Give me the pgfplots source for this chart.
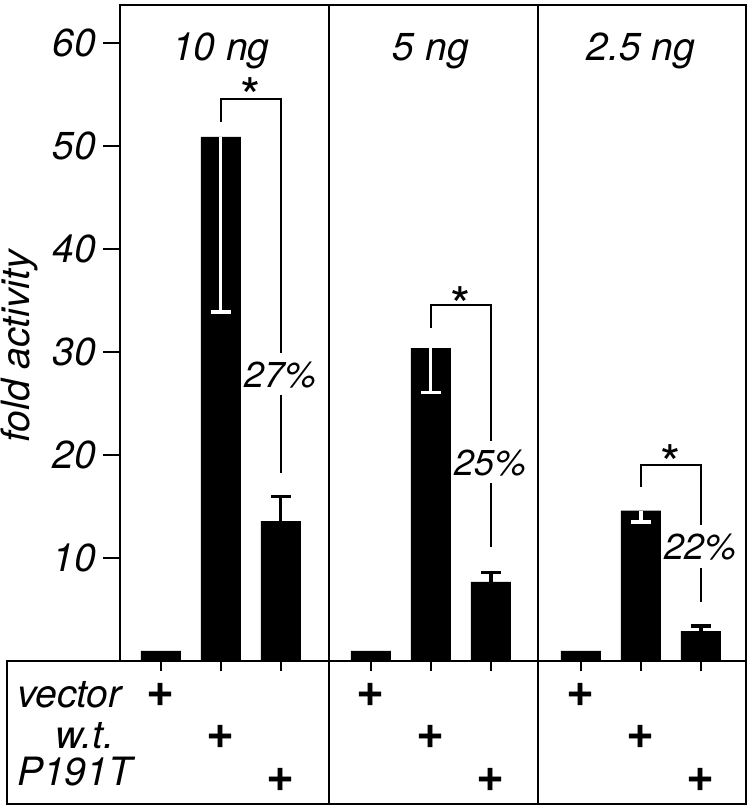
\documentclass[border=0pt]{standalone}
\usepackage{pgfplots}
\pgfplotsset{compat=1.18}
\usepackage{fontspec}
\setmainfont{TeX Gyre Heros}
\newcommand{\lbl}{\fontsize{19.5}{22}\selectfont\itshape}
\newcommand{\pct}{\fontsize{18}{22}\selectfont\itshape}
\newcommand{\pls}{\fontsize{24}{24}\selectfont\bfseries}
\newcommand{\str}{\fontsize{26}{26}\selectfont}
\begin{document}
\begin{tikzpicture}
\begin{axis}[
  scale only axis, width=313pt, height=328pt,
  xmin=-0.68, xmax=9.75, ymin=0, ymax=63.7,
  axis line style={line width=1.2pt},
  clip=false,
  /pgf/number format/assume math mode=true,
  ytick={10,20,30,40,50,60},
  yticklabel style={font=\lbl},
  ytick pos=left, ytick align=outside,
  major tick length=8.5pt,
  tick style={line width=1.2pt, black},
  xtick={0,1,2,3.5,4.5,5.5,7,8,9},
  xticklabels={},
  xtick pos=bottom, xtick align=outside,
  x tick style={/pgfplots/major tick length=5pt},
  ylabel={fold activity},
  ylabel style={font=\lbl, inner sep=0pt, at={(axis description cs:-0.16,0.48)}, anchor=center},
]
% vector bars
\addplot[ybar, bar width=20pt, bar shift=0pt, fill=black, draw=none]
  coordinates {(0,1) (3.5,1) (7,1)};
% wild type bars with white downward error bars
\addplot[ybar, bar width=20pt, bar shift=0pt, fill=black, draw=none,
  error bars/.cd, y dir=minus, y explicit,
  error bar style={draw=white, line width=1.6pt},
  error mark=-,
  error mark options={rotate=90, draw=white, mark size=5pt, line width=1.6pt}]
  coordinates {(1,50.9) +- (0,17.0) (4.5,30.4) +- (0,4.3) (8,14.6) +- (0,1.1)};
% P191T bars with upward error bars
\addplot[ybar, bar width=20pt, bar shift=0pt, fill=black, draw=none,
  error bars/.cd, y dir=plus, y explicit,
  error bar style={draw=black, line width=1.6pt},
  error mark=-,
  error mark options={rotate=90, draw=black, mark size=5pt, line width=1.6pt}]
  coordinates {(2,13.6) +- (0,2.4) (5.5,7.7) +- (0,0.9) (9,2.9) +- (0,0.5)};
% significance brackets
\addplot[black, line width=1pt, mark=none] coordinates {(1,52.4) (1,54.6) (2,54.6) (2,29.9)};
\addplot[black, line width=1pt, mark=none] coordinates {(2,25.8) (2,18.3)};
\addplot[black, line width=1pt, mark=none] coordinates {(4.5,32.3) (4.5,34.6) (5.5,34.6) (5.5,21.4)};
\addplot[black, line width=1pt, mark=none] coordinates {(5.5,17.3) (5.5,11.1)};
\addplot[black, line width=1pt, mark=none] coordinates {(8,16.9) (8,19.0) (9,19.0) (9,13.2)};
\addplot[black, line width=1pt, mark=none] coordinates {(9,9.0) (9,5.7)};
% stars and percentages
\node[font=\str, anchor=base, inner sep=0pt] at (axis cs:1.5,53.0) {*};
\node[font=\str, anchor=base, inner sep=0pt] at (axis cs:5.0,32.7) {*};
\node[font=\str, anchor=base, inner sep=0pt] at (axis cs:8.5,17.3) {*};
\node[font=\pct, anchor=base, inner sep=0pt] at (axis cs:2,26.6) {27\%};
\node[font=\pct, anchor=base, inner sep=0pt] at (axis cs:5.5,18.06) {25\%};
\node[font=\pct, anchor=base, inner sep=0pt] at (axis cs:9,9.9) {22\%};
% panel titles
\node[font=\lbl, anchor=base, inner sep=0pt] at (axis cs:1,58.35) {10 ng};
\node[font=\lbl, anchor=base, inner sep=0pt] at (axis cs:4.5,58.35) {5 ng};
\node[font=\lbl, anchor=base, inner sep=0pt] at (axis cs:8,58.35) {2.5 ng};
% dividers and table frame
\draw[line width=1.2pt] (axis cs:2.8,63.7) -- (axis cs:2.8,-13.88);
\draw[line width=1.2pt] (axis cs:6.28,63.7) -- (axis cs:6.28,-13.88);
\draw[line width=1.2pt] (axis cs:-2.56,0) -- (axis cs:9.75,0) -- (axis cs:9.75,-13.88) -- (axis cs:-2.56,-13.88) -- cycle;
% table rows
\node[font=\lbl, anchor=base west, inner sep=0pt] at (axis cs:-2.4,-4.47) {vector};
\node[font=\lbl, anchor=base east, inner sep=0pt] at (axis cs:-0.77,-8.45) {w.t.};
\node[font=\lbl, anchor=base west, inner sep=0pt] at (axis cs:-2.4,-12.04) {P191T};
\node[font=\pls, inner sep=0pt] at (axis cs:0,-3.3) {+};
\node[font=\pls, inner sep=0pt] at (axis cs:3.5,-3.3) {+};
\node[font=\pls, inner sep=0pt] at (axis cs:7,-3.3) {+};
\node[font=\pls, inner sep=0pt] at (axis cs:1,-7.38) {+};
\node[font=\pls, inner sep=0pt] at (axis cs:4.5,-7.38) {+};
\node[font=\pls, inner sep=0pt] at (axis cs:8,-7.38) {+};
\node[font=\pls, inner sep=0pt] at (axis cs:2,-11.55) {+};
\node[font=\pls, inner sep=0pt] at (axis cs:5.5,-11.55) {+};
\node[font=\pls, inner sep=0pt] at (axis cs:9,-11.55) {+};
% bounding box matching reference
\path (axis cs:-2.68,64.2) rectangle (axis cs:9.85,-14.56);
\end{axis}
\end{tikzpicture}
\end{document}
